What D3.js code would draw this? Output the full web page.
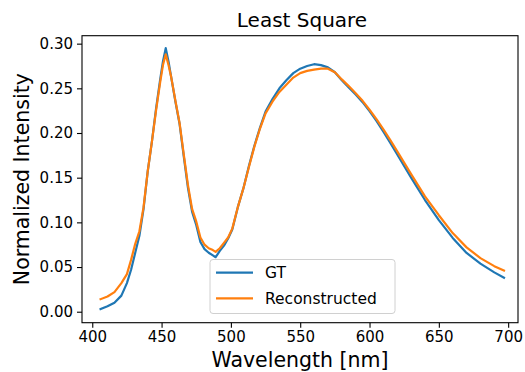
<!DOCTYPE html>
<html><head><meta charset="utf-8">
<script src="https://cdn.jsdelivr.net/npm/d3@7"></script>
<style>body{margin:0;background:#fff}svg{display:block}text{font-family:"DejaVu Sans",sans-serif;fill:#000}</style>
</head><body><svg id="c" width="525" height="372"></svg>
<script>
const wavelengths=[406,411,416,421,425,428,431,434,437,440,443,446,449,451,453,455,457,460,463,466,469,472,475,478,481,484,487,489,492,495,498,501,505,509,513,517,521,525,530,535,540,545,550,555,560,565,570,575,580,585,590,595,600,605,610,615,620,630,640,650,660,670,680,690,697];
const gtValues=[0.003,0.006,0.010,0.018,0.032,0.047,0.066,0.085,0.115,0.157,0.190,0.227,0.260,0.280,0.295,0.280,0.262,0.235,0.210,0.174,0.139,0.112,0.097,0.078,0.070,0.066,0.063,0.061,0.068,0.074,0.082,0.092,0.117,0.138,0.163,0.186,0.206,0.224,0.238,0.250,0.259,0.267,0.272,0.275,0.277,0.276,0.2735,0.268,0.259,0.251,0.243,0.2345,0.2245,0.2135,0.2015,0.189,0.176,0.150,0.125,0.1025,0.0826,0.0658,0.0538,0.044,0.038];
const reconValues=[0.014,0.017,0.022,0.032,0.042,0.058,0.076,0.090,0.117,0.157,0.190,0.225,0.257,0.276,0.288,0.276,0.262,0.236,0.211,0.176,0.142,0.115,0.101,0.083,0.075,0.071,0.069,0.067,0.071,0.077,0.083,0.093,0.117,0.138,0.162,0.185,0.205,0.222,0.235,0.246,0.254,0.262,0.267,0.2695,0.271,0.272,0.272,0.268,0.260,0.2525,0.2445,0.236,0.226,0.2155,0.204,0.192,0.1795,0.154,0.129,0.108,0.088,0.072,0.060,0.051,0.046];
const xTicks=[400,450,500,550,600,650,700];
const yTicks=[0,0.05,0.10,0.15,0.20,0.25,0.30];
const seriesNames=["GT","Reconstructed"];
const colors=["#1f77b4","#ff7f0e"];
const titleText="Least Square", xLabel="Wavelength [nm]", yLabel="Normalized Intensity";

const L=82,T=35.7,R=518,B=322.7;
const svg=d3.select("#c");
const x=d3.scaleLinear().domain([392.6,707.1]).range([L,R]);
const y=d3.scaleLinear().domain([-0.0123,0.3089]).range([B,T]);

const line=d3.line().x(d=>x(d[0])).y(d=>y(d[1]));
[gtValues,reconValues].forEach((vals,i)=>{
  svg.append("path").attr("d",line(wavelengths.map((w,j)=>[w,vals[j]])))
    .attr("fill","none").attr("stroke",colors[i]).attr("stroke-width",2.2)
    .attr("stroke-linejoin","round").attr("stroke-linecap","square");
});

const xa=svg.append("g").attr("transform",`translate(0,${B})`)
  .call(d3.axisBottom(x).tickValues(xTicks).tickFormat(d3.format("d")).tickSize(5).tickPadding(4));
const ya=svg.append("g").attr("transform",`translate(${L},0)`)
  .call(d3.axisLeft(y).tickValues(yTicks).tickFormat(d3.format(".2f")).tickSize(5).tickPadding(4));
[xa,ya].forEach(a=>{a.select(".domain").remove();a.selectAll("line").attr("stroke","#000").attr("stroke-width",1.1);
  a.selectAll("text").attr("font-size",15).attr("font-family","DejaVu Sans").attr("fill","#000");});

svg.append("rect").attr("x",L).attr("y",T).attr("width",R-L).attr("height",B-T)
  .attr("fill","none").attr("stroke","#000").attr("stroke-width",1.1);

svg.append("text").attr("x",(L+R)/2+2).attr("y",27.3).attr("text-anchor","middle").attr("font-size",20).text(titleText);
svg.append("text").attr("x",(L+R)/2).attr("y",367).attr("text-anchor","middle").attr("font-size",20.5).text(xLabel);
svg.append("text").attr("transform",`translate(29,${(T+B)/2}) rotate(-90)`).attr("text-anchor","middle").attr("font-size",20.5).text(yLabel);

const lg=svg.append("g");
lg.append("rect").attr("x",210).attr("y",259.5).attr("width",185).attr("height",54).attr("rx",3)
  .attr("fill","#fff").attr("fill-opacity",0.8).attr("stroke","#d0d0d0").attr("stroke-width",1);
seriesNames.forEach((n,i)=>{
  const yy=272.7+i*25.6;
  lg.append("line").attr("x1",216).attr("x2",253).attr("y1",yy).attr("y2",yy).attr("stroke",colors[i]).attr("stroke-width",2.2);
  lg.append("text").attr("x",265).attr("y",yy+5.5).attr("font-size",15.5).text(n);
});
</script></body></html>
